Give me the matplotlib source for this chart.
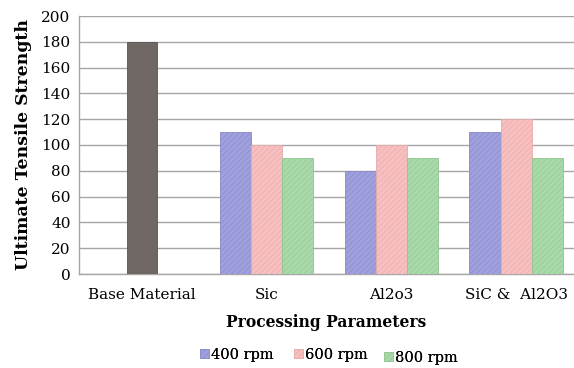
import matplotlib
matplotlib.use("Agg")
import matplotlib.pyplot as plt
import numpy as np
from matplotlib.patches import Patch

categories = ["Base Material", "Sic", "Al2o3", "SiC &  Al2O3"]
base_value = [180]
series_names = ["400 rpm", "600 rpm", "800 rpm"]
rpm400 = [110, 80, 110]
rpm600 = [100, 100, 120]
rpm800 = [90, 90, 90]
yticks = [0, 20, 40, 60, 80, 100, 120, 140, 160, 180, 200]

colors = ["#a0a0de", "#f7bfbf", "#a9d9a9"]
hatch_cols = ["#8888c8", "#e6aaaa", "#90c690"]
base_color = "#6e6763"

plt.rcParams['font.family'] = ['DejaVu Serif']
plt.rcParams['hatch.linewidth'] = 0.4

fig = plt.figure(figsize=(5.74, 3.68), dpi=100)
ax = fig.add_axes([79/574, 1-274/368, 1-79/574, (274-16)/368])

x = np.arange(len(categories))
w = 0.25
ax.bar(x[0], base_value[0], width=0.235, color=base_color, edgecolor="#5a5450", linewidth=0.6, zorder=3)
for i, (vals, c, hc) in enumerate(zip([rpm400, rpm600, rpm800], colors, hatch_cols)):
    ax.bar(x[1:] + (i-1)*w, vals, width=w, color=c, edgecolor=hc, hatch='//////', linewidth=0.6, zorder=3)

ax.set_xlim(-0.505, 3.464)
ax.set_ylim(0, 200)
ax.set_yticks(yticks)
ax.set_xticks(x)
ax.set_xticklabels(categories, fontsize=11)
ax.tick_params(axis='y', labelsize=11, length=0, pad=6)
ax.tick_params(axis='x', length=0, pad=10)
ax.yaxis.grid(True, color="#a6a6a6", linewidth=1.0, zorder=0)
ax.set_axisbelow(True)
for s in ["top", "right"]:
    ax.spines[s].set_visible(False)
for s in ["left", "bottom"]:
    ax.spines[s].set_color("#a6a6a6")
    ax.spines[s].set_linewidth(1.0)

ax.set_ylabel("Ultimate Tensile Strength", fontsize=12.4, fontweight='bold', labelpad=7)
ax.set_xlabel("Processing Parameters", fontsize=11.2, fontweight='bold', labelpad=9)

legend_pos = [(237/574, 1-355/368), (331/574, 1-355/368), (421/574, 1-358/368)]
for name, c, hc, pos in zip(series_names, colors, hatch_cols, legend_pos):
    h = Patch(facecolor=c, edgecolor=hc, hatch='//////', linewidth=0.5)
    lg = fig.legend([h], [name], loc='center', bbox_to_anchor=pos, frameon=False, fontsize=10.5,
                    handlelength=0.6, handleheight=0.6, handletextpad=0.15, borderpad=0, borderaxespad=0)
    fig.add_artist(lg)

fig.savefig("out.png", dpi=100)
